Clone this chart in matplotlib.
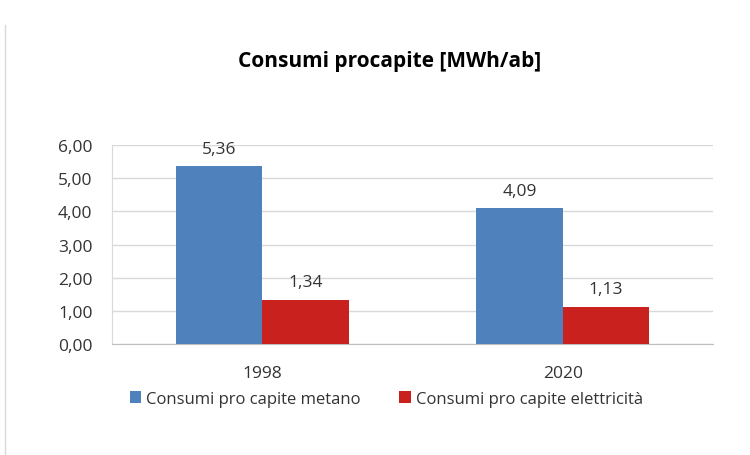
import matplotlib.pyplot as plt
from matplotlib.lines import Line2D
import numpy as np

anni = ['1998', '2020']
metano = [5.36, 4.09]
elettricita = [1.34, 1.13]
yticks = [0, 1, 2, 3, 4, 5, 6]

plt.rcParams['font.family'] = ['Open Sans', 'DejaVu Sans']

fig = plt.figure(figsize=(7.5, 4.56), dpi=100)
ax = fig.add_axes([0.1493, 0.2434, 0.8014, 0.4364])

x = np.arange(len(anni))
w = 0.288
b1 = ax.bar(x - w / 2, metano, w, color='#4F81BD', label='Consumi pro capite metano', zorder=3)
b2 = ax.bar(x + w / 2, elettricita, w, color='#C9211E', label='Consumi pro capite elettricità', zorder=3)

for bars in (b1, b2):
    for r in bars:
        ax.annotate(f'{r.get_height():.2f}'.replace('.', ','),
                    (r.get_x() + r.get_width() / 2, r.get_height()),
                    xytext=(0, 7), textcoords='offset points',
                    ha='center', va='bottom', fontsize=12.5, color='#333333')

ax.set_xlim(-0.5, 1.5)
ax.set_ylim(0, 6)
ax.set_yticks(yticks)
ax.set_yticklabels([f'{v:.2f}'.replace('.', ',') for v in yticks])
ax.set_xticks(x)
ax.set_xticklabels(anni)
ax.tick_params(axis='y', length=0, pad=14, labelsize=12.5, labelcolor='#333333')
ax.tick_params(axis='x', length=0, pad=15, labelsize=12.5, labelcolor='#333333')
ax.grid(axis='y', color='#D9D9D9', linewidth=1, zorder=0)
for s in ['top', 'right']:
    ax.spines[s].set_visible(False)
ax.spines['left'].set_color('#D9D9D9')
ax.spines['bottom'].set_color('#BFBFBF')

fig.text(0.52, 1 - 62 / 456, 'Consumi procapite [MWh/ab]', ha='center', va='center',
         fontsize=15, fontweight='bold', color='black')

fig.legend(handles=[b1, b2], loc='center', bbox_to_anchor=(0.515, 1 - 400 / 456),
           ncol=2, frameon=False, fontsize=12, handlelength=0.7, handleheight=0.7,
           handletextpad=0.3, columnspacing=2.3, labelcolor='#333333')

# bordo sinistro del riquadro
fig.add_artist(Line2D([5 / 750, 5 / 750], [0, 1 - 26 / 456], transform=fig.transFigure,
                      color='#D9D9D9', linewidth=1))

fig.savefig('out.png', dpi=100)
